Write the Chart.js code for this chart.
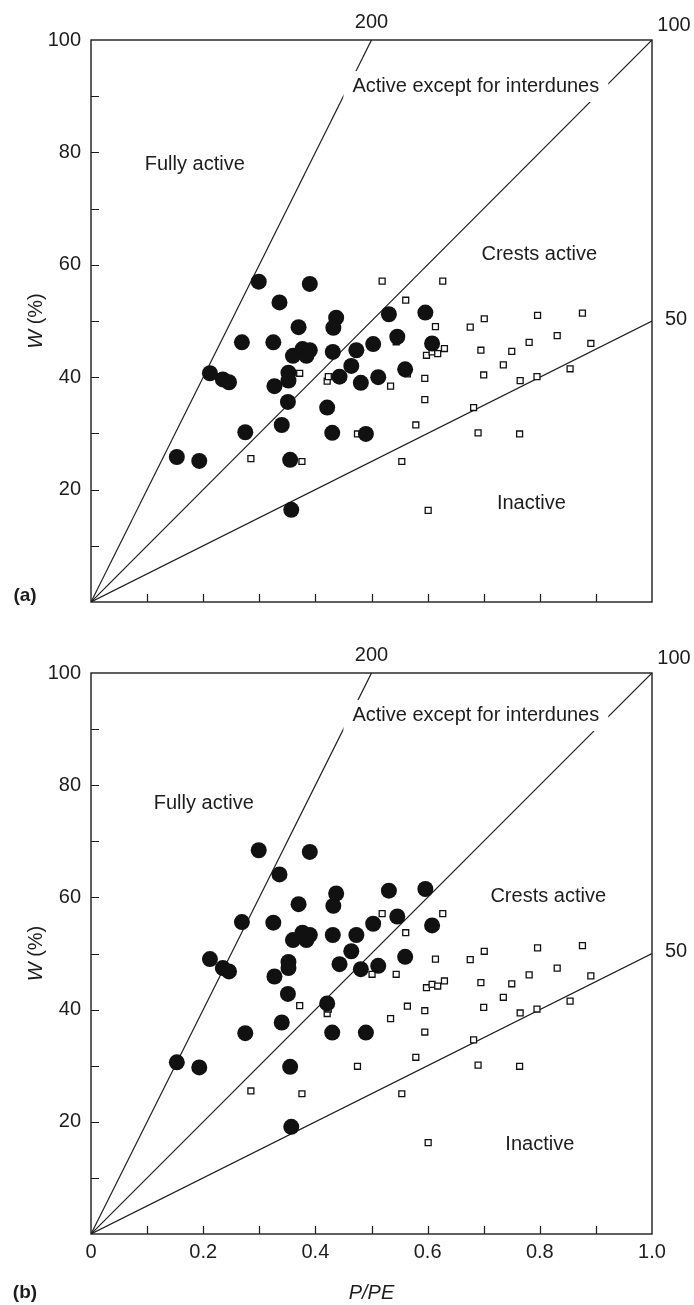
<!DOCTYPE html>
<html lang="en">
<head>
<meta charset="UTF-8">
<title>Dune activity: W vs P/PE</title>
<script src="https://cdn.jsdelivr.net/npm/chart.js"></script>
<style>
  html, body { margin: 0; padding: 0; background: #fff; }
  #wrap { position: relative; width: 694px; height: 1305px; }
  canvas { position: absolute; left: 0; }
  #chartA { top: 0; }
  #chartB { top: 640px; }
</style>
</head>
<body>
<div id="wrap">
  <canvas id="chartA" width="694" height="640"></canvas>
  <canvas id="chartB" width="694" height="665"></canvas>
</div>
<script>
// filled circles: P/PE, W in panel (a), W in panel (b)
const filledPPE = [0.299, 0.390, 0.336, 0.437, 0.432, 0.370, 0.269, 0.325, 0.360, 0.377,
                   0.390, 0.384, 0.431, 0.473, 0.503, 0.464, 0.212, 0.235, 0.246, 0.352,
                   0.352, 0.327, 0.443, 0.481, 0.512, 0.351, 0.421, 0.340, 0.275, 0.430,
                   0.490, 0.531, 0.596, 0.546, 0.608, 0.560, 0.153, 0.193, 0.355, 0.357];
const filledWa = [57.0, 56.6, 53.3, 50.6, 48.8, 48.9, 46.2, 46.2, 43.8, 45.0,
                  44.8, 43.8, 44.5, 44.8, 45.9, 42.0, 40.7, 39.6, 39.1, 40.8,
                  39.4, 38.4, 40.1, 39.0, 40.0, 35.6, 34.6, 31.5, 30.2, 30.1,
                  29.9, 51.2, 51.5, 47.2, 46.0, 41.4, 25.8, 25.1, 25.3, 16.4];
const filledWb = [68.4, 68.1, 64.1, 60.7, 58.5, 58.8, 55.6, 55.5, 52.4, 53.7,
                  53.3, 52.4, 53.3, 53.3, 55.3, 50.4, 49.0, 47.4, 46.8, 48.5,
                  47.4, 45.9, 48.1, 47.2, 47.8, 42.8, 41.1, 37.7, 35.8, 35.9,
                  35.9, 61.2, 61.5, 56.6, 55.0, 49.4, 30.6, 29.7, 29.8, 19.1];

// open squares: same in both panels
const openPPE = [0.285, 0.376, 0.372, 0.421, 0.423, 0.475, 0.501, 0.519, 0.534, 0.544,
                 0.554, 0.561, 0.564, 0.579, 0.595, 0.595, 0.598, 0.601, 0.608, 0.614,
                 0.618, 0.627, 0.630, 0.676, 0.682, 0.690, 0.695, 0.700, 0.701, 0.735,
                 0.750, 0.764, 0.765, 0.781, 0.795, 0.796, 0.831, 0.854, 0.876, 0.891];
const openW = [25.5, 25.0, 40.7, 39.3, 40.1, 29.9, 46.3, 57.1, 38.4, 46.3,
               25.0, 53.7, 40.6, 31.5, 39.8, 36.0, 43.9, 16.3, 44.5, 49.0,
               44.2, 57.1, 45.1, 48.9, 34.6, 30.1, 44.8, 40.4, 50.4, 42.2,
               44.6, 29.9, 39.4, 46.2, 40.1, 51.0, 47.4, 41.5, 51.4, 46.0];

// W / (P/PE) boundary ratios
const thresholds = [200, 100, 50];
const xTickLabels = ['0', '0.2', '0.4', '0.6', '0.8', '1.0'];
const yTickLabels = ['20', '40', '60', '80', '100'];
const zoneNames = ['Fully active', 'Active except for interdunes', 'Crests active', 'Inactive'];

const ink = '#1e1c1d';
const fontFam = '"Liberation Sans", Arial, Helvetica, sans-serif';

// where the zone names sit, in data units, per panel
const zonePosA = [[0.185, 77.8], [0.686, 91.8], [0.799, 61.9], [0.785, 17.6]];
const zonePosB = [[0.201, 76.8], [0.686, 92.5], [0.815, 60.2], [0.800, 16.0]];

function pts(xs, ys) {
    return xs.map((v, i) => ({ x: v, y: ys[i] }));
}

function boundaryLine(r) {
    const xe = Math.min(1, 100 / r);
    return [{ x: 0, y: 0 }, { x: xe, y: r * xe }];
}

const decor = {
    id: 'decor',
    afterDraw(chart, args, opts) {
        const { ctx, chartArea: ca, scales } = chart;
        const x = scales.x, y = scales.y;
        ctx.save();
        ctx.strokeStyle = ink;
        ctx.fillStyle = ink;

        // frame
        ctx.lineWidth = 1.4;
        ctx.strokeRect(ca.left, ca.top, ca.width, ca.height);

        // inward tick marks
        ctx.lineWidth = 1.2;
        ctx.beginPath();
        for (let v = 10; v < 100; v += 10) {
            const py = Math.round(y.getPixelForValue(v)) + 0.5;
            ctx.moveTo(ca.left, py);
            ctx.lineTo(ca.left + 8, py);
        }
        for (let i = 1; i < 10; i++) {
            const px = Math.round(x.getPixelForValue(i / 10)) + 0.5;
            ctx.moveTo(px, ca.bottom);
            ctx.lineTo(px, ca.bottom - 8);
        }
        ctx.stroke();

        // boundary ratio labels
        ctx.font = '20px ' + fontFam;
        thresholds.forEach(r => {
            const end = boundaryLine(r)[1];
            if (end.x < 1) {
                ctx.textAlign = 'center'; ctx.textBaseline = 'middle';
                ctx.fillText(String(r), x.getPixelForValue(end.x), ca.top - 18);
            } else if (end.y >= 100) {
                ctx.textAlign = 'center'; ctx.textBaseline = 'middle';
                ctx.fillText(String(r), ca.right + 22, ca.top - 15);
            } else {
                ctx.textAlign = 'left'; ctx.textBaseline = 'middle';
                ctx.fillText(String(r), ca.right + 13, y.getPixelForValue(end.y) - 2);
            }
        });

        // zone names
        ctx.textAlign = 'center'; ctx.textBaseline = 'middle';
        zoneNames.forEach((name, i) => {
            const px = x.getPixelForValue(opts.zones[i][0]);
            const py = y.getPixelForValue(opts.zones[i][1]);
            if (i === 1) {
                const w = ctx.measureText(name).width;
                ctx.fillStyle = '#fff';
                ctx.fillRect(px - w / 2 - 9, py - 15, w + 18, 31);
                ctx.fillStyle = ink;
            }
            ctx.fillText(name, px, py);
        });

        // y title: W (%)
        ctx.save();
        ctx.translate(36, (ca.top + ca.bottom) / 2);
        ctx.rotate(-Math.PI / 2);
        ctx.font = 'italic 20px ' + fontFam;
        const wW = ctx.measureText('W').width;
        ctx.font = '20px ' + fontFam;
        const wR = ctx.measureText(' (%)').width;
        ctx.textAlign = 'left';
        ctx.font = 'italic 20px ' + fontFam;
        ctx.fillText('W', -(wW + wR) / 2, 0);
        ctx.font = '20px ' + fontFam;
        ctx.fillText(' (%)', -(wW + wR) / 2 + wW, 0);
        ctx.restore();

        // panel letter
        ctx.font = 'bold 19px ' + fontFam;
        ctx.textAlign = 'center';
        ctx.fillText(opts.letter, 25, ca.bottom + opts.letterDy);

        // x title
        if (opts.xTitle) {
            ctx.font = 'italic 20px ' + fontFam;
            ctx.fillText('P/PE', (ca.left + ca.right) / 2, ca.bottom + 59);
        }
        ctx.restore();
    }
};

function makeChart(id, wFilled, zones, letter, letterDy, showX, padTop, xAxisH) {
    const lineSets = thresholds.map(r => ({
        type: 'line',
        data: boundaryLine(r),
        borderColor: ink,
        borderWidth: 1.2,
        pointRadius: 0,
        fill: false,
        order: 2
    }));
    return new Chart(document.getElementById(id), {
        type: 'scatter',
        data: {
            datasets: [
                {
                    label: 'filled',
                    data: pts(filledPPE, wFilled),
                    pointStyle: 'circle',
                    pointRadius: 8,
                    backgroundColor: '#111',
                    borderWidth: 0,
                    order: 0
                },
                {
                    label: 'open',
                    data: pts(openPPE, openW),
                    pointStyle: 'rect',
                    pointRadius: 4.2,
                    backgroundColor: '#fff',
                    borderColor: '#111',
                    borderWidth: 1.3,
                    order: 1
                },
                ...lineSets
            ]
        },
        options: {
            responsive: false,
            animation: false,
            devicePixelRatio: 1,
            layout: { padding: { top: padTop, right: 42, left: 0, bottom: 0 } },
            plugins: {
                legend: { display: false },
                tooltip: { enabled: false },
                decor: { zones: zones, letter: letter, letterDy: letterDy, xTitle: showX }
            },
            scales: {
                x: {
                    type: 'linear', min: 0, max: 1,
                    grid: { display: false, drawTicks: false },
                    border: { display: false },
                    afterFit: s => { s.height = xAxisH; },
                    ticks: {
                        stepSize: 0.1, autoSkip: false, maxRotation: 0, padding: 6,
                        color: ink, font: { family: fontFam, size: 20 },
                        display: showX,
                        callback: v => xTickLabels.find(l => Math.abs(parseFloat(l) - v) < 1e-6) || ''
                    }
                },
                y: {
                    type: 'linear', min: 0, max: 100,
                    grid: { display: false, drawTicks: false },
                    border: { display: false },
                    afterFit: s => { s.width = 91; },
                    ticks: {
                        stepSize: 10, autoSkip: false, padding: 10,
                        color: ink, font: { family: fontFam, size: 20 },
                        callback: v => yTickLabels.includes(String(v)) ? String(v) : ''
                    }
                }
            }
        },
        plugins: [decor]
    });
}

makeChart('chartA', filledWa, zonePosA, '(a)', -6, false, 40, 38);
makeChart('chartB', filledWb, zonePosB, '(b)', 59, true, 33, 71);
</script>
</body>
</html>
